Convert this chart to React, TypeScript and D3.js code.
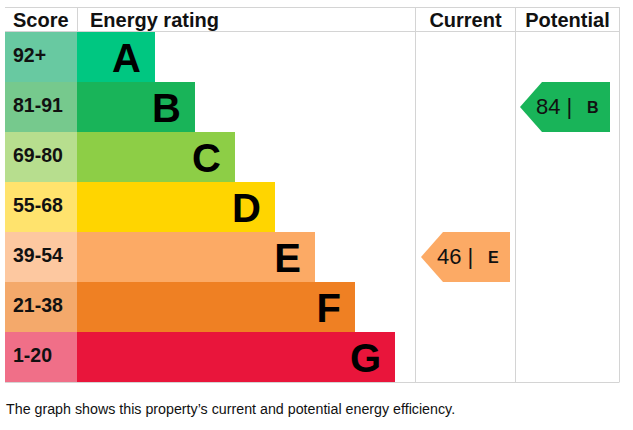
import React from "react";
import * as d3 from "d3";

const bands = ["A", "B", "C", "D", "E", "F", "G"];
const scoreRanges = ["92+", "81-91", "69-80", "55-68", "39-54", "21-38", "1-20"];
const barUnits = [1, 2, 3, 4, 5, 6, 7];
const barColors = ["#00c781", "#19b459", "#8dce46", "#ffd500", "#fcaa65", "#ef8023", "#e9153b"];
const scoreColors = ["#68c9a1", "#76c98d", "#b7de8e", "#ffe36d", "#fdc8a0", "#f4a96b", "#f06f88"];
const headers = ["Score", "Energy rating", "Current", "Potential"];
const currentScore = 46;
const currentBand = "E";
const potentialScore = 84;
const potentialBand = "B";
const footer = "The graph shows this property\u2019s current and potential energy efficiency.";

const W = 633;
const H = 430;
const left = 5;
const right = 619.5;
const top = 7;
const headerBottom = 32;
const bottom = 382;
const scoreRight = 77;
const currentLeft = 415.5;
const potentialLeft = 515.5;
const font = "Arial, 'Liberation Sans', sans-serif";
const grid = "#d4d4d4";

export default function App() {
  const y = d3.scaleBand<string>().domain(bands).range([headerBottom, bottom]).padding(0);
  const x = d3.scaleLinear().domain([0, 7]).range([115, 395]);
  const bw = y.bandwidth();

  const arrow = (tipX: number, rightX: number, band: string, score: number, color: string) => {
    const y0 = y(band)!;
    const y1 = y0 + bw;
    const ym = y0 + bw / 2;
    const path = d3.path();
    path.moveTo(tipX, ym);
    path.lineTo(tipX + 22, y0);
    path.lineTo(rightX, y0);
    path.lineTo(rightX, y1);
    path.lineTo(tipX + 22, y1);
    path.closePath();
    return (
      <g>
        <path d={path.toString()} fill={color} />
        <text x={tipX + 16} y={ym + 7} fontSize={22} fontFamily={font} fill="#111">
          {score} |
        </text>
        <text x={tipX + 67} y={ym + 6} fontSize={16} fontWeight="bold" fontFamily={font} fill="#111">
          {band}
        </text>
      </g>
    );
  };

  return (
    <svg width={W} height={H} style={{ position: "absolute", left: 0, top: 0, background: "#fff" }}>
      {/* grid lines */}
      <line x1={left} x2={right} y1={top + 0.5} y2={top + 0.5} stroke={grid} />
      <line x1={left} x2={right} y1={headerBottom - 0.5} y2={headerBottom - 0.5} stroke={grid} />
      <line x1={left} x2={right} y1={bottom + 0.5} y2={bottom + 0.5} stroke={grid} />
      <line x1={scoreRight + 0.5} x2={scoreRight + 0.5} y1={top} y2={headerBottom} stroke={grid} />
      <line x1={currentLeft} x2={currentLeft} y1={top} y2={bottom} stroke={grid} />
      <line x1={potentialLeft} x2={potentialLeft} y1={top} y2={bottom} stroke={grid} />
      <line x1={right} x2={right} y1={top} y2={bottom} stroke={grid} />

      {/* headers */}
      <text x={13} y={27} fontSize={20} fontWeight="bold" fontFamily={font} fill="#111">{headers[0]}</text>
      <text x={90} y={27} fontSize={20} fontWeight="bold" fontFamily={font} fill="#111">{headers[1]}</text>
      <text x={(currentLeft + potentialLeft) / 2} y={27} fontSize={20} fontWeight="bold" fontFamily={font} fill="#111" textAnchor="middle">{headers[2]}</text>
      <text x={(potentialLeft + right) / 2} y={27} fontSize={20} fontWeight="bold" fontFamily={font} fill="#111" textAnchor="middle">{headers[3]}</text>

      {/* rows */}
      {bands.map((b, i) => {
        const y0 = y(b)!;
        const end = x(barUnits[i]);
        return (
          <g key={b}>
            <rect x={left} y={y0} width={scoreRight - left} height={bw} fill={scoreColors[i]} />
            <rect x={scoreRight} y={y0} width={end - scoreRight} height={bw} fill={barColors[i]} />
            <text x={13} y={y0 + 30} fontSize={19.5} fontWeight="bold" fontFamily={font} fill="#111">
              {scoreRanges[i]}
            </text>
            <text x={end - 14} y={y0 + 40} fontSize={40} fontWeight="bold" fontFamily={font} fill="#000" textAnchor="end">
              {b}
            </text>
          </g>
        );
      })}

      {arrow(421, 510, currentBand, currentScore, barColors[bands.indexOf(currentBand)])}
      {arrow(520, 610, potentialBand, potentialScore, barColors[bands.indexOf(potentialBand)])}

      <text x={6} y={414} fontSize={14.25} fontFamily={font} fill="#111">{footer}</text>
    </svg>
  );
}
